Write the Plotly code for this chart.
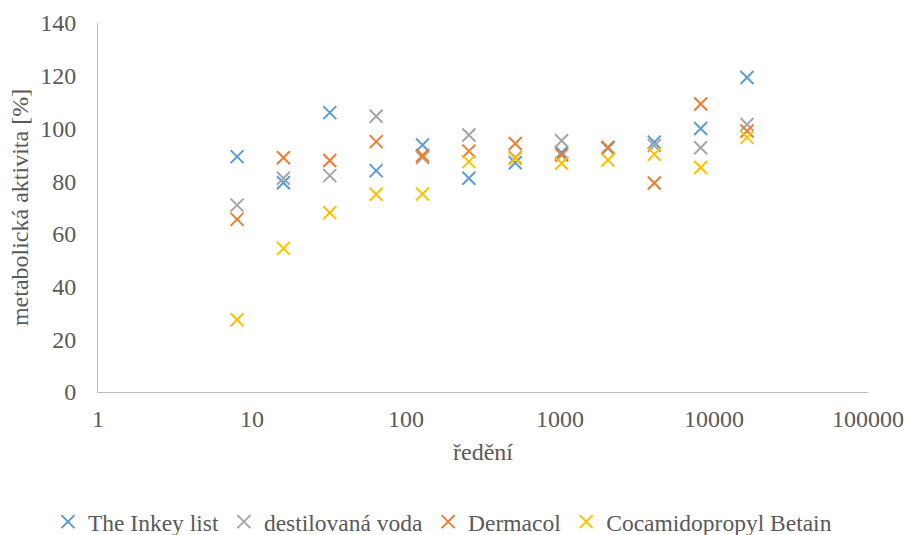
import plotly.graph_objects as go

dilution = [8, 16, 32, 64, 128, 256, 512, 1024, 2048, 4096, 8192, 16384]
inkey = [89.3, 79.4, 106.0, 84.0, 93.7, 81.1, 87.0, 90.8, 92.5, 94.8, 100.0, 119.3]
destil = [70.9, 81.1, 82.1, 104.6, 89.0, 97.5, 89.0, 95.3, 92.8, 93.5, 92.7, 101.5]
dermacol = [65.5, 88.9, 87.8, 95.0, 89.7, 91.4, 94.3, 89.9, 92.8, 79.3, 109.3, 99.0]
coca = [27.4, 54.5, 68.0, 75.0, 75.1, 87.4, 88.6, 86.8, 88.0, 90.2, 85.2, 96.6]

series = [
    ("The Inkey list", inkey, "#5B9BD5"),
    ("destilovaná voda", destil, "#A5A5A5"),
    ("Dermacol", dermacol, "#ED7D31"),
    ("Cocamidopropyl Betain", coca, "#FFC000"),
]

x_ticks = [1, 10, 100, 1000, 10000, 100000]
x_ticktext = ["1", "10", "100", "1000", "10000", "100000"]
y_ticks = [0, 20, 40, 60, 80, 100, 120, 140]

fig = go.Figure()
for name, vals, col in series:
    fig.add_trace(go.Scatter(
        x=dilution, y=vals, mode="markers", name=name,
        marker=dict(symbol="x-thin", size=13, line=dict(color=col, width=2), color=col),
    ))

font = "Liberation Serif"
tf = dict(family=font, size=24, color="#595959")
fig.update_layout(
    width=907, height=535,
    margin=dict(l=98, r=39, t=23, b=143, autoexpand=False),
    paper_bgcolor="white", plot_bgcolor="white",
    font=tf,
    showlegend=True,
    legend=dict(orientation="h", x=-0.065, xanchor="left",
                y=-0.352, yanchor="middle",
                font=dict(family=font, size=23.5, color="#595959"),
                itemwidth=30, tracegroupgap=0),
    xaxis=dict(type="log", range=[0, 5], tickvals=x_ticks, ticktext=x_ticktext,
               showgrid=False, zeroline=False, showline=True, linecolor="#BFBFBF", linewidth=1,
               ticks="", ticklabelstandoff=5, automargin=False,
               title=dict(text="ředění", standoff=12, font=tf), tickfont=tf),
    yaxis=dict(range=[0, 140], tickvals=y_ticks, showgrid=False, zeroline=False,
               showline=True, linecolor="#BFBFBF", linewidth=1, ticks="",
               ticklabelstandoff=16, automargin=False,
               title=dict(text="metabolická aktivita [%]", standoff=4, font=tf), tickfont=tf),
)

fig.write_html("out.html")
